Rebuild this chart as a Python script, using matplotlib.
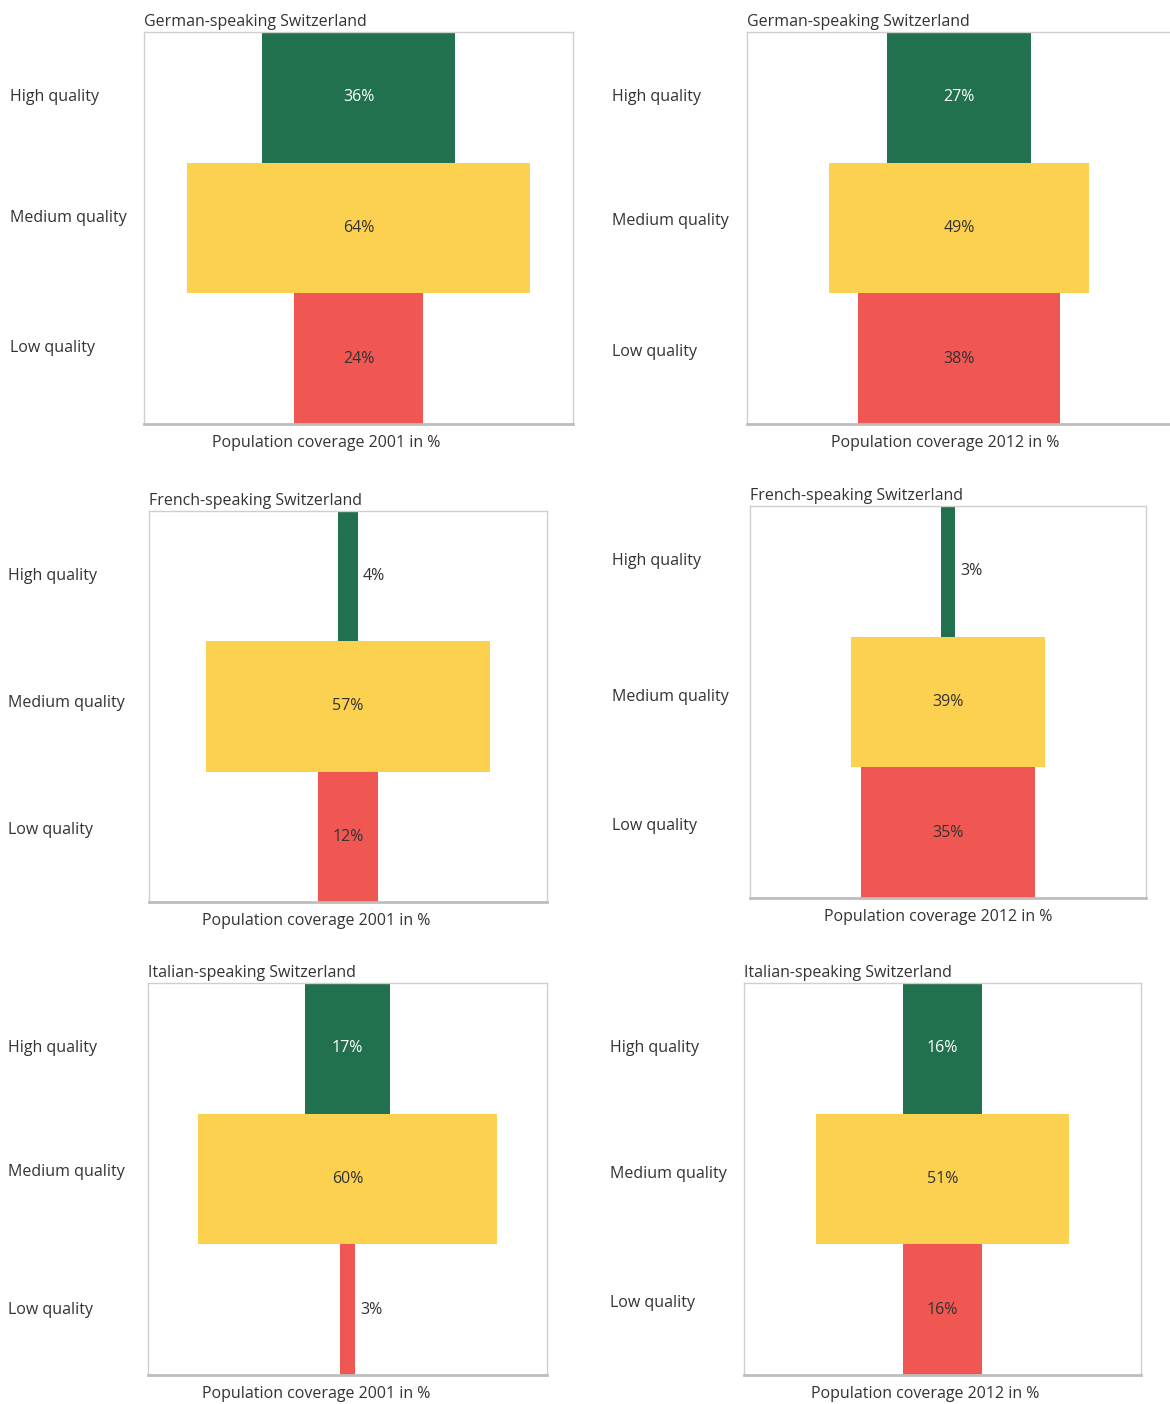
import matplotlib
matplotlib.use('Agg')
import matplotlib.pyplot as plt
from matplotlib.transforms import blended_transform_factory

plt.rcParams['font.family'] = ['Open Sans', 'DejaVu Sans']
plt.rcParams['font.size'] = 11

TEXT = '#333333'
COLORS = ['#21704e', '#fcd150', '#f05752']

categories = ['High quality', 'Medium quality', 'Low quality']
titles = ['German-speaking Switzerland', 'German-speaking Switzerland',
          'French-speaking Switzerland', 'French-speaking Switzerland',
          'Italian-speaking Switzerland', 'Italian-speaking Switzerland']
xlabels = ['Population coverage 2001 in %', 'Population coverage 2012 in %'] * 3

german_2001 = [36, 64, 24]
german_2012 = [27, 49, 38]
french_2001 = [4, 57, 12]
french_2012 = [3, 39, 35]
italian_2001 = [17, 60, 3]
italian_2012 = [16, 51, 16]
panels = [german_2001, german_2012, french_2001, french_2012, italian_2001, italian_2012]

# axes boxes in pixels: left, top, right, bottom
boxes = [(144, 32, 573, 424), (747, 32, 1171, 424),
         (149, 511, 547, 902), (750, 506, 1146, 898),
         (148, 983, 547, 1375), (744, 983, 1141, 1375)]
label_x = [10, 612, 8, 612, 8, 610]
# small vertical nudges of the row labels (in bar heights)
label_dy = [(0, -0.08, -0.08), (0, -0.05, -0.05), (0, -0.03, -0.05),
            (-0.08, -0.04, -0.05), (0, -0.05, 0), (0, -0.04, -0.05)]
xlabel_pos = [0.425, 0.467, 0.42, 0.475, 0.421, 0.456]

W, H = 1170, 1404
fig = plt.figure(figsize=(W / 100, H / 100), dpi=100)

for i, vals in enumerate(panels):
    l, t, r, b = boxes[i]
    ax = fig.add_axes([l / W, 1 - b / H, (r - l) / W, (b - t) / H])
    y = list(range(len(categories)))
    ax.barh(y, vals, left=[-v / 2 for v in vals], height=1.0, color=COLORS)
    ax.set_xlim(-40, 40)
    ax.set_ylim(2.5, -0.5)
    ax.set_xticks([])
    ax.set_yticks([])
    for s in ['top', 'left', 'right']:
        ax.spines[s].set_color('#cfcfcf')
        ax.spines[s].set_linewidth(1.0)
    ax.spines['bottom'].set_color('#bdbdbd')
    ax.spines['bottom'].set_linewidth(2.0)

    for j, v in enumerate(vals):
        if v < 8:
            ax.text(v / 2 + 1, j, f'{v}%', ha='left', va='center', color=TEXT, fontsize=11.5)
        else:
            c = 'white' if j == 0 else TEXT
            ax.text(0, j, f'{v}%', ha='center', va='center', color=c, fontsize=11.5)

    tr = blended_transform_factory(fig.transFigure, ax.transData)
    for j, cat in enumerate(categories):
        ax.text(label_x[i] / W, j + label_dy[i][j], cat, transform=tr, ha='left',
                va='center', color=TEXT, fontsize=11.5)

    ax.set_title(titles[i], loc='left', color=TEXT, fontsize=11.5, pad=4)
    ax.set_xlabel(xlabels[i], color=TEXT, fontsize=11.5)
    ax.xaxis.set_label_coords(xlabel_pos[i], -0.028, transform=ax.transAxes)
    ax.xaxis.label.set_va('top')

fig.savefig('out.png', dpi=100)
